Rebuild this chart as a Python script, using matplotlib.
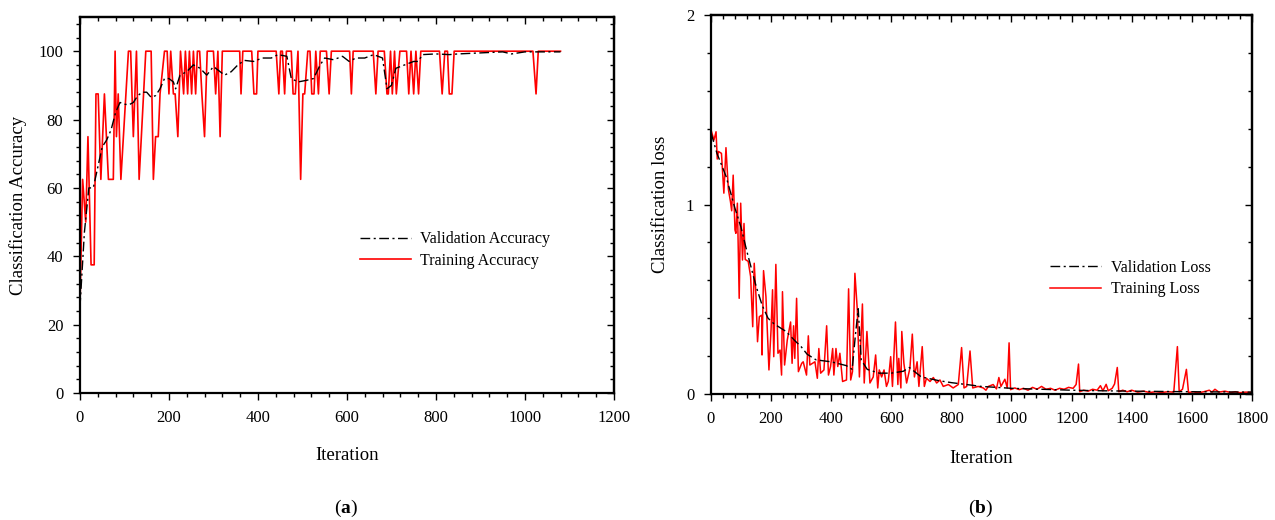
import matplotlib
matplotlib.use("Agg")
import matplotlib.pyplot as plt
from matplotlib.ticker import MultipleLocator

plt.rcParams["font.family"] = ["Liberation Serif", "DejaVu Serif"]
plt.rcParams["mathtext.fontset"] = "custom"
plt.rcParams["mathtext.bf"] = "Liberation Serif:bold"
plt.rcParams["mathtext.rm"] = "Liberation Serif"

# ---- (a) accuracy data ----
acc_train_iter = [0, 6, 13, 18, 25, 32, 36, 41, 47, 55, 64, 75, 79, 82, 86, 92, 109, 114, 120,
                  127, 133, 148, 160, 165, 170, 176, 180, 190, 196, 200, 204, 210, 214, 220, 226,
                  233, 237, 242, 246, 251, 255, 260, 264, 269, 274, 280, 286, 300, 305, 310, 315,
                  320, 359, 362, 366, 386, 391, 397, 400, 441, 447, 451, 455, 460, 464, 475, 479,
                  484, 490, 496, 501, 505, 512, 517, 521, 526, 530, 536, 540, 554, 560, 565, 606,
                  610, 614, 659, 665, 670, 684, 690, 693, 698, 702, 707, 711, 719, 734, 739, 744,
                  750, 755, 761, 766, 808, 814, 820, 826, 830, 836, 841, 1018, 1025, 1030, 1080]
acc_train_val = [25, 62.5, 50, 75, 37.5, 37.5, 87.5, 87.5, 62.5, 87.5, 62.5, 62.5, 100, 75, 87.5,
                 62.5, 100, 100, 75, 100, 62.5, 100, 100, 62.5, 75, 75, 87.5, 100, 100, 87.5, 100,
                 87.5, 87.5, 75, 100, 87.5, 100, 87.5, 100, 87.5, 100, 87.5, 100, 100, 87.5, 75,
                 100, 100, 87.5, 100, 75, 100, 100, 87.5, 100, 100, 87.5, 87.5, 100, 100, 87.5,
                 100, 100, 87.5, 100, 100, 87.5, 87.5, 100, 62.5, 87.5, 87.5, 100, 100, 87.5,
                 87.5, 100, 87.5, 100, 100, 87.5, 100, 100, 87.5, 100, 100, 87.5, 100, 100, 87.5,
                 87.5, 100, 87.5, 100, 87.5, 100, 100, 87.5, 100, 87.5, 100, 87.5, 100, 100, 87.5,
                 100, 100, 87.5, 87.5, 100, 100, 87.5, 100, 100]

acc_val_iter = [0, 10, 20, 30, 40, 50, 60, 70, 80, 90, 100, 110, 120, 130, 140, 150, 160, 170,
                180, 190, 200, 210, 215, 225, 240, 255, 270, 285, 300, 315, 325, 340, 355, 370,
                390, 410, 430, 445, 465, 475, 490, 510, 525, 540, 550, 570, 590, 605, 620, 640,
                660, 680, 690, 700, 710, 730, 750, 760, 770, 800, 830, 850, 900, 950, 970, 1000,
                1080]
acc_val_val = [25, 47, 60, 60, 66, 72, 74, 77, 82, 85, 84.5, 84.3, 85, 87, 88, 88, 86.5, 87, 89,
               92, 92, 91, 89, 93, 94, 96, 95, 93, 95.5, 94, 93, 94, 96, 97.3, 97, 98, 98, 99,
               98.5, 92, 91, 91.5, 92, 96, 98, 97.5, 98.5, 97, 98, 98, 99, 98, 89, 90, 95, 96,
               97, 97, 99, 99.2, 99, 99.2, 99.5, 99.8, 99.2, 99.8, 99.8]

# ---- (b) loss data ----
loss_train_iter = [2, 10, 17, 21, 25, 35, 43, 50, 58, 65, 69, 74, 80, 83, 88, 94, 99, 105, 110,
                   114, 124, 132, 139, 144, 150, 155, 161, 169, 170, 175, 183, 193, 200, 205, 209,
                   216, 223, 230, 235, 238, 245, 254, 265, 270, 275, 279, 285, 291, 302, 307, 318,
                   324, 329, 346, 354, 359, 365, 376, 385, 391, 398, 405, 409, 416, 422, 429, 438,
                   451, 458, 465, 471, 479, 487, 494, 504, 510, 519, 529, 540, 548, 555, 560, 568,
                   576, 584, 590, 598, 604, 614, 622, 625, 632, 635, 642, 651, 662, 670, 677, 686,
                   692, 703, 710, 717, 729, 740, 751, 762, 773, 790, 806, 823, 834, 842, 851, 862,
                   871, 889, 906, 915, 923, 939, 950, 958, 965, 978, 986, 992, 997, 1011, 1026,
                   1040, 1055, 1070, 1085, 1100, 1115, 1130, 1145, 1160, 1175, 1190, 1205, 1215,
                   1223, 1227, 1240, 1255, 1270, 1285, 1296, 1304, 1315, 1322, 1335, 1343, 1352,
                   1357, 1370, 1385, 1400, 1420, 1440, 1460, 1480, 1500, 1520, 1540, 1552, 1558,
                   1569, 1582, 1589, 1605, 1620, 1640, 1658, 1667, 1677, 1690, 1710, 1730, 1745,
                   1760, 1780, 1800]
loss_train_val = [1.384, 1.34, 1.384, 1.24, 1.28, 1.27, 1.06, 1.30, 1.08, 1.015, 0.967, 1.155,
                  0.866, 0.848, 1.007, 0.505, 1.007, 0.707, 0.90, 0.71, 0.70, 0.62, 0.355, 0.69,
                  0.514, 0.276, 0.408, 0.416, 0.206, 0.651, 0.514, 0.127, 0.338, 0.55, 0.197,
                  0.684, 0.215, 0.232, 0.10, 0.54, 0.153, 0.285, 0.38, 0.162, 0.36, 0.188, 0.505,
                  0.118, 0.162, 0.17, 0.10, 0.307, 0.153, 0.17, 0.083, 0.24, 0.11, 0.127, 0.36,
                  0.10, 0.145, 0.24, 0.10, 0.24, 0.145, 0.215, 0.066, 0.074, 0.555, 0.074, 0.118,
                  0.637, 0.444, 0.09, 0.475, 0.058, 0.33, 0.058, 0.09, 0.206, 0.032, 0.127, 0.09,
                  0.127, 0.04, 0.066, 0.197, 0.04, 0.38, 0.05, 0.188, 0.032, 0.33, 0.162, 0.058,
                  0.136, 0.316, 0.09, 0.17, 0.04, 0.25, 0.04, 0.083, 0.066, 0.087, 0.058, 0.074,
                  0.04, 0.05, 0.032, 0.05, 0.245, 0.032, 0.04, 0.227, 0.032, 0.04, 0.032, 0.02,
                  0.04, 0.05, 0.027, 0.087, 0.04, 0.078, 0.032, 0.27, 0.023, 0.032, 0.023, 0.03,
                  0.02, 0.035, 0.025, 0.04, 0.025, 0.03, 0.02, 0.03, 0.025, 0.035, 0.03, 0.05,
                  0.158, 0.012, 0.02, 0.015, 0.025, 0.02, 0.044, 0.017, 0.051, 0.017, 0.03, 0.053,
                  0.14, 0.012, 0.02, 0.012, 0.02, 0.01, 0.015, 0.008, 0.012, 0.008, 0.012, 0.01,
                  0.25, 0.012, 0.025, 0.13, 0.008, 0.012, 0.006, 0.012, 0.02, 0.01, 0.025, 0.01,
                  0.015, 0.008, 0.012, 0.007, 0.01, 0.008]

loss_val_iter = [0, 20, 50, 80, 100, 120, 150, 170, 190, 210, 250, 280, 300, 320, 350, 400, 450,
                 470, 480, 490, 500, 520, 560, 600, 640, 660, 700, 760, 800, 850, 900, 1000, 1100,
                 1200, 1300, 1400, 1600, 1800]
loss_val_val = [1.38, 1.27, 1.15, 0.98, 0.88, 0.75, 0.57, 0.47, 0.40, 0.37, 0.33, 0.28, 0.25,
                0.21, 0.18, 0.17, 0.15, 0.13, 0.30, 0.45, 0.18, 0.13, 0.11, 0.11, 0.12, 0.14,
                0.09, 0.07, 0.06, 0.05, 0.04, 0.03, 0.025, 0.02, 0.017, 0.015, 0.012, 0.01]

DASHDOT = (0, (7, 2.5, 1.5, 2.5))


def style_axes(ax, xmajor, xminor, ymajor, yminor):
    ax.xaxis.set_major_locator(MultipleLocator(xmajor))
    ax.xaxis.set_minor_locator(MultipleLocator(xminor))
    ax.yaxis.set_major_locator(MultipleLocator(ymajor))
    ax.yaxis.set_minor_locator(MultipleLocator(yminor))
    for s in ax.spines.values():
        s.set_linewidth(1.6)
    ax.tick_params(which="both", direction="out", top=False, right=False, labelsize=12, width=1)
    ax.tick_params(which="major", length=5, pad=7)
    ax.tick_params(which="minor", length=3)
    # mirrored ticks pointing inward on top/right
    sec_x = ax.secondary_xaxis("top")
    sec_x.xaxis.set_major_locator(MultipleLocator(xmajor))
    sec_x.xaxis.set_minor_locator(MultipleLocator(xminor))
    sec_x.tick_params(which="both", direction="in", labeltop=False, width=1)
    sec_x.tick_params(which="major", length=5)
    sec_x.tick_params(which="minor", length=3)
    sec_x.spines["top"].set_linewidth(1.6)
    sec_y = ax.secondary_yaxis("right")
    sec_y.yaxis.set_major_locator(MultipleLocator(ymajor))
    sec_y.yaxis.set_minor_locator(MultipleLocator(yminor))
    sec_y.tick_params(which="both", direction="in", labelright=False, width=1)
    sec_y.tick_params(which="major", length=5)
    sec_y.tick_params(which="minor", length=3)
    sec_y.spines["right"].set_linewidth(1.6)


fig = plt.figure(figsize=(12.75, 5.2), dpi=100)
ax1 = fig.add_axes([0.0627, 0.2442, 0.4188, 0.7231])
ax2 = fig.add_axes([0.5576, 0.2423, 0.4243, 0.7288])

# (a)
tr1, = ax1.plot(acc_train_iter, acc_train_val, color="red", lw=1.2, zorder=2)
va1, = ax1.plot(acc_val_iter, acc_val_val, color="black", lw=1.0, ls=DASHDOT, zorder=3)
ax1.set_xlim(0, 1200)
ax1.set_ylim(0, 110)
style_axes(ax1, 200, 40, 20, 4)
ax1.set_xlabel("Iteration", fontsize=13.5, labelpad=15)
ax1.set_ylabel("Classification Accuracy", fontsize=13.5, labelpad=8)
ax1.legend([va1, tr1], ["Validation Accuracy", "Training Accuracy"], loc="center left",
           bbox_to_anchor=(0.497, 0.38), frameon=False, fontsize=11.5, handlelength=3.2,
           handletextpad=0.6, labelspacing=0.35)

# (b)
tr2, = ax2.plot(loss_train_iter, loss_train_val, color="red", lw=1.1, zorder=2)
va2, = ax2.plot(loss_val_iter, loss_val_val, color="black", lw=1.0, ls=DASHDOT, zorder=3)
ax2.set_xlim(0, 1800)
ax2.set_ylim(0, 2)
style_axes(ax2, 200, 40, 1, 0.2)
ax2.set_xlabel("Iteration", fontsize=13.5, labelpad=17)
ax2.set_ylabel("Classification loss", fontsize=13.5, labelpad=12)
ax2.legend([va2, tr2], ["Validation Loss", "Training Loss"], loc="center left",
           bbox_to_anchor=(0.6, 0.305), frameon=False, fontsize=11.5, handlelength=3.2,
           handletextpad=0.6, labelspacing=0.35)

fig.text(346 / 1275, 1 - 508 / 520, r"($\mathbf{a}$)", ha="center", va="center", fontsize=14)
fig.text(981 / 1275, 1 - 508 / 520, r"($\mathbf{b}$)", ha="center", va="center", fontsize=14)

fig.savefig("out.png", dpi=100)
